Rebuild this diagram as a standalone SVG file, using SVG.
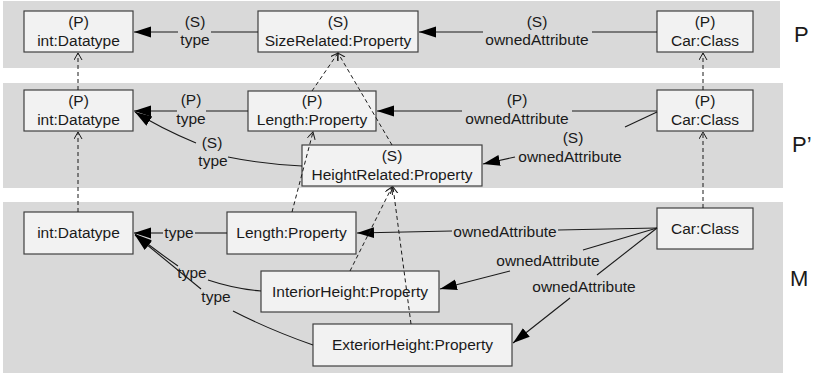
<svg xmlns="http://www.w3.org/2000/svg" width="815" height="377" viewBox="0 0 815 377">
<style>
.band{fill:#d9d9d9}
.node rect{fill:#f2f2f2;stroke:#404040;stroke-width:1.2}
text{font-family:"Liberation Sans",Arial,sans-serif;font-size:15.5px;fill:#1a1a1a;text-anchor:middle}
.lvl{font-size:22px;text-anchor:start}
.e{fill:none;stroke:#1a1a1a;stroke-width:1.1}
.ea{fill:none;stroke:#1a1a1a;stroke-width:1.1;marker-end:url(#fill)}
.d{fill:none;stroke:#1a1a1a;stroke-width:1;stroke-dasharray:4 3;marker-end:url(#open)}
</style>
<defs>
<marker id="fill" markerUnits="userSpaceOnUse" markerWidth="18" markerHeight="12" refX="17" refY="5.5" orient="auto">
<path d="M0,0 L17,5.5 L0,11 Z" fill="#000"/>
</marker>
<marker id="open" markerUnits="userSpaceOnUse" markerWidth="10" markerHeight="10" refX="7" refY="4" orient="auto">
<path d="M0,0 L7,4 L0,8" fill="none" stroke="#1a1a1a" stroke-width="1"/>
</marker>
</defs>

<g id="bands">
<rect class="band" x="3" y="1" width="777" height="67"/>
<rect class="band" x="3" y="83" width="780" height="105"/>
<rect class="band" x="3" y="202" width="780" height="171"/>
<text class="lvl" x="794" y="42">P</text>
<text class="lvl" x="792" y="152">P’</text>
<text class="lvl" x="790" y="286">M</text>
</g>

<g id="P_int" class="node"><rect x="24" y="11" width="109" height="41"/><text x="78.5" y="27">(P)</text><text x="78.5" y="46">int:Datatype</text></g>
<g id="P_size" class="node"><rect x="258" y="11" width="160" height="41"/><text x="338" y="27">(S)</text><text x="338" y="46">SizeRelated:Property</text></g>
<g id="P_car" class="node"><rect x="657" y="11" width="96" height="41"/><text x="705" y="27">(P)</text><text x="705" y="46">Car:Class</text></g>

<g id="Pp_int" class="node"><rect x="24" y="90" width="109" height="41"/><text x="78.5" y="106">(P)</text><text x="78.5" y="125">int:Datatype</text></g>
<g id="Pp_len" class="node"><rect x="248" y="91" width="128" height="40"/><text x="312" y="106">(P)</text><text x="312" y="125">Length:Property</text></g>
<g id="Pp_height" class="node"><rect x="302" y="145" width="180" height="41"/><text x="392" y="161">(S)</text><text x="392" y="180">HeightRelated:Property</text></g>
<g id="Pp_car" class="node"><rect x="657" y="90" width="96" height="41"/><text x="705" y="106">(P)</text><text x="705" y="125">Car:Class</text></g>

<g id="M_int" class="node"><rect x="24" y="212" width="109" height="42"/><text x="78.5" y="238">int:Datatype</text></g>
<g id="M_len" class="node"><rect x="227" y="212" width="129" height="42"/><text x="291.5" y="238">Length:Property</text></g>
<g id="M_interior" class="node"><rect x="261" y="271" width="178" height="41"/><text x="350" y="297">InteriorHeight:Property</text></g>
<g id="M_exterior" class="node"><rect x="313" y="324" width="199" height="42"/><text x="412.5" y="350">ExteriorHeight:Property</text></g>
<g id="M_car" class="node"><rect x="657" y="208" width="96" height="41"/><text x="705" y="234">Car:Class</text></g>

<g id="connectors">
<!-- P band -->
<path class="e" d="M258,32 L211,32"/><path class="ea" d="M178,32 L134,32"/>
<text x="195" y="27">(S)</text><text x="195" y="45">type</text>
<path class="e" d="M657,32 L592,32"/><path class="ea" d="M483,32 L419,32"/>
<text x="537" y="27">(S)</text><text x="537" y="45">ownedAttribute</text>

<!-- P' band -->
<path class="e" d="M248,111 L206,111"/><path class="ea" d="M177,111 L134,111"/>
<text x="191" y="105">(P)</text><text x="191" y="124">type</text>
<path class="e" d="M302,166 Q262,164 228,157"/><path class="ea" d="M196,143 Q160,128 135,112"/>
<text x="212" y="148">(S)</text><text x="213" y="166">type</text>
<path class="e" d="M657,111 L572,111"/><path class="ea" d="M462,111 L377,111"/>
<text x="517" y="105">(P)</text><text x="517" y="124">ownedAttribute</text>
<path class="e" d="M657,112 L625,127"/><path class="ea" d="M515,157 L483,164"/>
<text x="573" y="143">(S)</text><text x="570" y="162">ownedAttribute</text>

<!-- M band -->
<path class="e" d="M227,233 L195,233"/><path class="ea" d="M163,233 L134,233"/>
<text x="179" y="238">type</text>
<path class="e" d="M261,291 Q235,289 208,280"/><path class="ea" d="M178,266 Q155,250 135,234"/>
<text x="192" y="278">type</text>
<path class="e" d="M313,345 Q270,330 233,311"/><path class="ea" d="M201,289 L135,235"/>
<text x="216" y="302">type</text>
<path class="e" d="M657,228 L558,230"/><path class="ea" d="M452,231 L357,233"/>
<text x="505" y="237">ownedAttribute</text>
<path class="e" d="M657,228 L583,250"/><path class="ea" d="M510,271 L440,289"/>
<text x="548" y="266">ownedAttribute</text>
<path class="e" d="M657,228 L597,275"/><path class="ea" d="M570,298 L513,343"/>
<text x="584" y="292">ownedAttribute</text>

<!-- dashed conformance links -->
<path class="d" d="M78,90 L78,53"/>
<path class="d" d="M78,212 L78,132"/>
<path class="d" d="M703,90 L703,53"/>
<path class="d" d="M703,208 L703,132"/>
<path class="d" d="M312,91 L338,53"/>
<path class="d" d="M392,145 L338,53"/>
<path class="d" d="M292,212 L313,132"/>
<path class="d" d="M350,271 L392,187"/>
<path class="d" d="M411,324 L393,187"/>
</g>
</svg>
